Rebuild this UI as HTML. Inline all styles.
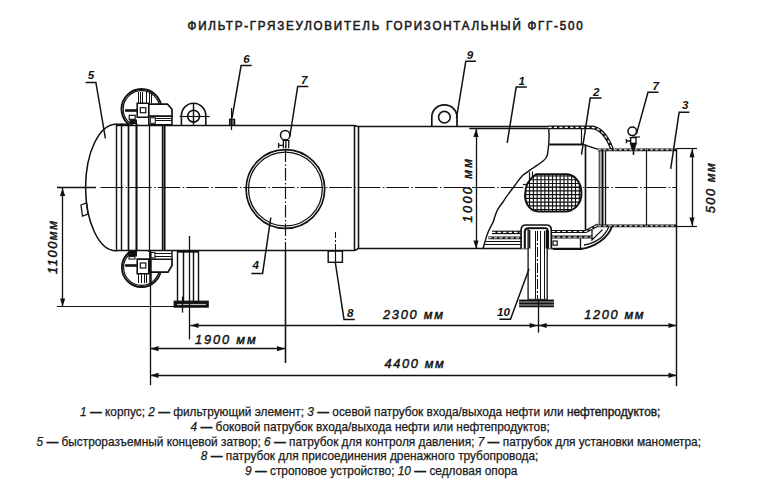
<!DOCTYPE html><html><head><meta charset="utf-8"><style>
html,body{margin:0;padding:0;background:#fff;width:768px;height:496px;overflow:hidden}
svg{position:absolute;left:0;top:0}
.t{font-family:"Liberation Sans",sans-serif}
.lg{position:absolute;left:0;white-space:nowrap;font-family:"Liberation Sans",sans-serif;font-size:11.85px;color:#1a1a1a;line-height:14px;-webkit-text-stroke:0.25px #1a1a1a}
.lg i{font-style:italic}.lg b{font-weight:bold}
</style></head><body>
<svg width="768" height="496" viewBox="0 0 768 496">
<g fill="none" stroke="#111" stroke-width="1.1" stroke-linecap="butt">
<line x1="57" y1="187.5" x2="96" y2="187.5" stroke-width="1.30"/>
<line x1="98.5" y1="187.5" x2="677" y2="187.5" stroke-width="1.17" stroke-dasharray="22.59 2.5 1.5 2" stroke-dashoffset="26.61"/>
<line x1="117" y1="125.5" x2="354.6" y2="125.5" stroke-width="1.56"/>
<line x1="358" y1="126.5" x2="549" y2="126.5" stroke-width="1.56"/>
<line x1="116" y1="250.5" x2="354.6" y2="250.5" stroke-width="1.56"/>
<line x1="358" y1="248.5" x2="583" y2="248.5" stroke-width="1.56"/>
<path d="M354.6,125.5 L358,126.6 M354.6,250.6 L358,248.7" stroke-width="1.56"/>
<line x1="354.5" y1="125.5" x2="354.5" y2="250.6" stroke-width="1.56"/>
<line x1="358.5" y1="126.6" x2="358.5" y2="248.7" stroke-width="1.56"/>
<path d="M128,124.2 L116,124.2 C99.3,124.2 85.6,152.5 85.6,187.5 C85.6,222.5 99.3,250.8 116,250.8 L117,250.8" stroke-width="1.56"/>
<path d="M81,205 L86.5,203 L88,214 L82.5,216 Z" stroke-width="1.30"/>
<line x1="116.5" y1="123.5" x2="116.5" y2="251" stroke-width="1.43"/>
<line x1="121.5" y1="123.5" x2="121.5" y2="251" stroke-width="1.43"/>
<line x1="128.5" y1="123.5" x2="128.5" y2="251" stroke-width="1.69"/>
<line x1="136.5" y1="123.5" x2="136.5" y2="251" stroke-width="2.08"/>
<line x1="149.5" y1="123.5" x2="149.5" y2="251" stroke-width="1.30"/>
<line x1="162.5" y1="123.5" x2="162.5" y2="251" stroke-width="1.43"/>
<line x1="164.5" y1="123.5" x2="164.5" y2="251" stroke-width="2.08"/>
<clipPath id="ct"><rect x="100" y="80" width="80" height="45"/></clipPath><g clip-path="url(#ct)">
<circle cx="141.5" cy="109" r="20" stroke-width="1.95"/>
<circle cx="141.5" cy="109" r="18.3" stroke-width="1.17"/>
</g>
<g fill="#fff">
<path d="M137.2,103.2 H148.8 V117.3 H137.2 Z" stroke-width="1.56"/>
<path d="M148.8,104.2 H167.5 L172,109.2 V116.3 H148.8 Z" stroke-width="1.69"/>
<path d="M148.8,116.3 H172 V124.8 H148.8 Z" stroke-width="1.56"/>
</g>
<rect x="140.3" y="107.7" width="5.5" height="5" stroke-width="1.17"/>
<line x1="125.1" y1="110.5" x2="137.2" y2="110.5" stroke-width="2.60"/>
<line x1="138.5" y1="92" x2="138.5" y2="103.2" stroke-width="1.04"/>
<line x1="140.5" y1="92" x2="140.5" y2="103.2" stroke-width="1.04"/>
<line x1="142.5" y1="92" x2="142.5" y2="103.2" stroke-width="1.04"/>
<line x1="146.5" y1="92" x2="146.5" y2="103.2" stroke-width="1.04"/>
<line x1="149.5" y1="92" x2="149.5" y2="103.2" stroke-width="1.04"/>
<line x1="151.5" y1="92" x2="151.5" y2="103.2" stroke-width="1.04"/>
<rect x="150.3" y="117.8" width="5" height="5.5" stroke-width="1.04"/>
<line x1="155.4" y1="118.5" x2="171.5" y2="118.5" stroke-width="1.04"/>
<line x1="155.4" y1="120.5" x2="171.5" y2="120.5" stroke-width="1.04"/>
<rect x="129.2" y="115.3" width="6" height="4" stroke-width="1.17"/>
<rect x="129.5" y="119.5" width="7.5" height="4.5" fill="#111" stroke="none"/>
<clipPath id="cb"><rect x="100" y="251" width="80" height="45"/></clipPath><g clip-path="url(#cb)">
<circle cx="141.5" cy="267.4" r="19.6" stroke-width="1.82"/>
<circle cx="141.5" cy="267.4" r="17.9" stroke-width="1.17"/>
</g>
<g fill="#fff">
<path d="M137.2,259.1 H148.8 V273.7 H137.2 Z" stroke-width="1.56"/>
<path d="M149.8,259.1 H172 V265.5 L168,272.2 H149.8 Z" stroke-width="1.69"/>
<path d="M149.8,250.6 H172 V259.1 H149.8 Z" stroke-width="1.43"/>
</g>
<rect x="140.3" y="263" width="5.5" height="5" stroke-width="1.17"/>
<line x1="125.1" y1="265.5" x2="137.2" y2="265.5" stroke-width="2.60"/>
<line x1="138.5" y1="273.7" x2="138.5" y2="283" stroke-width="1.04"/>
<line x1="141.5" y1="273.7" x2="141.5" y2="283" stroke-width="1.04"/>
<line x1="144.5" y1="273.7" x2="144.5" y2="283" stroke-width="1.04"/>
<line x1="146.5" y1="273.7" x2="146.5" y2="283" stroke-width="1.04"/>
<line x1="150.5" y1="259" x2="150.5" y2="284" stroke-width="2.34"/>
<rect x="151" y="252.4" width="4" height="5.5" stroke-width="1.04"/>
<line x1="155" y1="253.5" x2="171.5" y2="253.5" stroke-width="1.04"/>
<line x1="155" y1="256.5" x2="171.5" y2="256.5" stroke-width="1.04"/>
<rect x="128.5" y="251" width="8.5" height="5.5" fill="#111" stroke="none"/>
<rect x="129" y="256.6" width="6" height="2.5" stroke-width="1.04"/>
<path d="M181.4,125.5 V115.5 A12.2,12.2 0 0 1 205.8,115.5 V125.5" stroke-width="1.56"/>
<circle cx="193.6" cy="116.2" r="5.9" stroke-width="1.56"/>
<line x1="179.6" y1="116.5" x2="209.6" y2="116.5" stroke-width="1.17"/>
<line x1="193.5" y1="104" x2="193.5" y2="126" stroke-width="1.43"/>
<rect x="229.6" y="119.3" width="5" height="6" stroke-width="1.30" fill="#666"/>
<line x1="231.5" y1="108" x2="231.5" y2="130" stroke-width="1.17"/>
<circle cx="285.2" cy="135.2" r="4.7" stroke-width="1.56"/>
<path d="M283.4,140.5 V148.2 M288.7,140.5 V148.2 M285.9,140.5 V148.2 M278.1,145.4 H283.4 M278.6,143 V148" stroke-width="1.30"/>
<line x1="282.5" y1="140.5" x2="289.5" y2="140.5" stroke-width="1.04"/>
<circle cx="285.4" cy="189" r="39.3" stroke-width="1.69"/>
<circle cx="285.4" cy="189" r="36.9" stroke-width="1.30"/>
<line x1="285.5" y1="146" x2="285.5" y2="250" stroke-width="1.17" stroke-dasharray="12.5 2.5 1.5 2" stroke-dashoffset="14.95"/>
<line x1="285.5" y1="250" x2="285.5" y2="363" stroke-width="1.30"/>
<rect x="328.2" y="251" width="14.2" height="11.3" stroke-width="1.43"/>
<line x1="335.5" y1="232" x2="335.5" y2="251" stroke-width="1.04" stroke-dasharray="6 2 2 2"/>
<line x1="335.5" y1="251" x2="335.5" y2="262.5" stroke-width="1.17"/>
<line x1="177.5" y1="250.5" x2="177.5" y2="301" stroke-width="1.43"/>
<line x1="183.5" y1="250.5" x2="183.5" y2="301" stroke-width="1.43"/>
<line x1="193.5" y1="250.5" x2="193.5" y2="301" stroke-width="1.43"/>
<line x1="198.5" y1="250.5" x2="198.5" y2="301" stroke-width="1.43"/>
<line x1="178" y1="251.5" x2="199" y2="251.5" stroke-width="2.34"/>
<rect x="174.2" y="301.2" width="34" height="5.9" fill="#111" stroke="#111" stroke-width="1.2"/>
<line x1="177" y1="304.5" x2="206" y2="304.5" stroke-width="1.17" stroke="#bbb"/>
<line x1="189.5" y1="236" x2="189.5" y2="339.4" stroke-width="1.30"/>
<line x1="182.5" y1="296.5" x2="182.5" y2="312.6" stroke-width="1.30"/>
<path d="M431.8,126.6 V117 A12.6,12.1 0 0 1 457,117 V126.6" stroke-width="1.69"/>
<circle cx="444.4" cy="117.2" r="5.8" stroke-width="1.56"/>
<path d="M548.5,127.3 H591 C600,127.3 607,136 612,149" stroke="#111" stroke-width="3.7"/>
<path d="M548.5,127.3 H591 C600,127.3 607,136 612,149" stroke="#fff" stroke-width="1.2" stroke-dasharray="3.2 2.2"/>
<path d="M548.7,129 C549.5,136 548.5,148 547.5,154.5 C546.5,158 545,159.5 543.7,160.5 C540,163.5 536,166 532.4,168.5 C528,171.5 525,173.5 522.6,175.5 C520,178 518.5,180.5 516.9,182.6 C515,185 514,186.5 512.7,188.2 C511,190.5 510,192 508.5,193.9 C506,197 504.5,199.5 502.8,202.3 C500,206 497.5,209 496.5,212 C494.5,217 494,220 493.1,222.2 C491,226 489.5,229 488.3,231.8 C486,237 485,242 483.5,247 L483,249" stroke-width="1.43"/>
<line x1="549.4" y1="144.5" x2="582.7" y2="144.5" stroke-width="1.82"/>
<path d="M582.7,144.4 L598.3,149.4" stroke-width="1.43"/>
<line x1="581.5" y1="129" x2="581.5" y2="144.4" stroke-width="1.17"/>
<line x1="585.5" y1="144.4" x2="585.5" y2="230" stroke-width="1.69"/>
<line x1="599.5" y1="149" x2="599.5" y2="226" stroke-width="1.82" stroke="#555"/>
<line x1="602.5" y1="149" x2="602.5" y2="226" stroke-width="2.08"/>
<line x1="605.5" y1="149" x2="605.5" y2="226" stroke-width="1.30"/>
<clipPath id="mc"><path d="M536,174.3 H566 C575,174.3 581.5,183 581.5,193 C581.5,204 574,211.6 565,211.6 H540 C531,211.6 525,205 525,195 C525,186 529,179 536,174.3 Z"/></clipPath>
<g clip-path="url(#mc)">
<path d="M525.70,172V214M529.53,172V214M533.36,172V214M537.19,172V214M541.02,172V214M544.85,172V214M548.68,172V214M552.51,172V214M556.34,172V214M560.17,172V214M564.00,172V214M567.83,172V214M571.66,172V214M575.49,172V214M579.32,172V214M522,176.00H584M522,179.73H584M522,183.46H584M522,187.19H584M522,190.92H584M522,194.65H584M522,198.38H584M522,202.11H584M522,205.84H584M522,209.57H584M522,213.30H584" stroke-width="1.17"/>
</g>
<path d="M536,174.3 H566 C575,174.3 581.5,183 581.5,193 C581.5,204 574,211.6 565,211.6 H540 C531,211.6 525,205 525,195 C525,186 529,179 536,174.3 Z" stroke-width="1.95"/>
<line x1="529.5" y1="172" x2="529.5" y2="180" stroke-width="1.17"/>
<line x1="532.5" y1="171.5" x2="532.5" y2="177" stroke-width="1.17"/>
<line x1="523" y1="184.5" x2="528" y2="184.5" stroke-width="1.17"/>
<path d="M492,232.4 H522" stroke="#111" stroke-width="3.5"/>
<path d="M492,232.4 H522" stroke="#fff" stroke-width="1.2" stroke-dasharray="3.5 2"/>
<path d="M488.3,237.9 H522" stroke="#111" stroke-width="2.9"/>
<path d="M488.3,237.9 H522" stroke="#fff" stroke-width="1.0" stroke-dasharray="3.5 2"/>
<line x1="486" y1="241.5" x2="522" y2="241.5" stroke-width="1.17"/>
<line x1="485" y1="244.5" x2="522" y2="244.5" stroke-width="1.17"/>
<path d="M551.3,231.5 H585.8 L598,225" stroke="#111" stroke-width="3.2"/>
<path d="M551.3,231.5 H585.8 L598,225" stroke="#fff" stroke-width="1.1" stroke-dasharray="3.5 2"/>
<path d="M551.3,237.1 H592" stroke="#111" stroke-width="3.0"/>
<path d="M551.3,237.1 H592" stroke="#fff" stroke-width="1.0" stroke-dasharray="3.5 2"/>
<rect x="553" y="241" width="4.2" height="4.2" stroke-width="1.17"/>
<line x1="580.5" y1="238.4" x2="580.5" y2="249" stroke-width="1.30"/>
<path d="M592,229.6 V240 L602.5,229.6" stroke-width="1.30"/>
<path d="M553,248.9 H581.7 C595,247 608,238 612,226.5" stroke-width="1.95"/>
<path d="M584,245 C596,243 605,236 609,226.5" stroke-width="1.30"/>
<g fill="#fff">
<path d="M521.1,248.5 V230 Q521.1,225 526,225 H546.3 Q551.3,225 551.3,230 V248.5" stroke-width="1.69"/>
</g>
<path d="M524.8,248.5 V232 Q524.8,228.3 528.5,228.3 H544.3 Q548,228.3 548,232 V248.5" stroke-width="2.08"/>
<rect x="528.1" y="228.5" width="19.1" height="71" stroke-width="1.30" fill="#fff"/>
<line x1="529.5" y1="230" x2="529.5" y2="248.5" stroke-width="1.69"/>
<line x1="546.5" y1="230" x2="546.5" y2="248.5" stroke-width="1.69"/>
<line x1="535.5" y1="231" x2="535.5" y2="299.6" stroke-width="1.04"/>
<line x1="540.5" y1="231" x2="540.5" y2="299.6" stroke-width="1.04"/>
<line x1="544.5" y1="231" x2="544.5" y2="299.6" stroke-width="1.04"/>
<line x1="537.5" y1="231" x2="537.5" y2="299" stroke-width="1.04" stroke-dasharray="10 2 2 2"/>
<rect x="519.1" y="299.6" width="34.8" height="7" fill="#777" stroke="none"/>
<line x1="519.1" y1="300.5" x2="553.9" y2="300.5" stroke-width="1.56"/>
<line x1="519.1" y1="303.5" x2="553.9" y2="303.5" stroke-width="1.56"/>
<line x1="519.1" y1="306.5" x2="553.9" y2="306.5" stroke-width="1.56"/>
<line x1="538.5" y1="299" x2="538.5" y2="332.7" stroke-width="1.30"/>
<path d="M598,149.8 H677" stroke="#111" stroke-width="2.8"/>
<path d="M598,149.8 H677" stroke="#fff" stroke-width="1.0" stroke-dasharray="3.2 2"/>
<path d="M598,225.9 H677" stroke="#111" stroke-width="2.6"/>
<path d="M598,225.9 H677" stroke="#fff" stroke-width="1.0" stroke-dasharray="3.2 2"/>
<line x1="676.5" y1="148.7" x2="676.5" y2="226" stroke-width="1.43"/>
<line x1="646.5" y1="148.7" x2="646.5" y2="226" stroke-width="1.17"/>
<circle cx="632.3" cy="131.3" r="4.3" stroke-width="1.56"/>
<path d="M630.7,137.7 V143.4 M636,137.7 V143.4 M625.9,141 H630.7 M626.4,139 V143.2 M629.5,137.7 H637" stroke-width="1.30"/>
<path d="M630,143 H636.5 L634.5,149.5 H632 Z" stroke-width="0.65" fill="#111"/>
<line x1="633.5" y1="149" x2="633.5" y2="155" stroke-width="1.56"/>
<path d="M632.5,137 H640" stroke-width="1.17"/>
<line x1="150.5" y1="251" x2="150.5" y2="385.2" stroke-width="1.30"/>
<line x1="676.5" y1="226" x2="676.5" y2="386.2" stroke-width="1.43"/>
<line x1="57" y1="306.5" x2="174" y2="306.5" stroke-width="1.17"/>
<line x1="57" y1="187.5" x2="62" y2="187.5" stroke-width="1.17"/>
<line x1="677" y1="148.5" x2="697" y2="148.5" stroke-width="1.17"/>
<line x1="677" y1="226.5" x2="697" y2="226.5" stroke-width="1.17"/>
<line x1="285.5" y1="250" x2="285.5" y2="363" stroke-width="1.30"/>
<line x1="62.5" y1="187.5" x2="62.5" y2="307" stroke-width="1.30"/>
<path d="M62.6,188 L60.0,196 L65.2,196 Z" fill="#111" stroke="none"/>
<path d="M62.6,306.5 L60.0,298.5 L65.2,298.5 Z" fill="#111" stroke="none"/>
<line x1="476.5" y1="128.5" x2="476.5" y2="249" stroke-width="1.30"/>
<path d="M476,129 L473.4,137 L478.6,137 Z" fill="#111" stroke="none"/>
<path d="M476,248.5 L473.4,240.5 L478.6,240.5 Z" fill="#111" stroke="none"/>
<line x1="469.3" y1="128.5" x2="548.5" y2="128.5" stroke-width="1.30"/>
<line x1="692.5" y1="148.7" x2="692.5" y2="226" stroke-width="1.30"/>
<path d="M692,149.2 L689.4,157.2 L694.6,157.2 Z" fill="#111" stroke="none"/>
<path d="M692,225.5 L689.4,217.5 L694.6,217.5 Z" fill="#111" stroke="none"/>
<line x1="190.2" y1="325.5" x2="677" y2="325.5" stroke-width="1.56"/>
<path d="M190.5,325.5 L198.5,322.9 L198.5,328.1 Z" fill="#111" stroke="none"/>
<path d="M537.7,325.5 L529.7,322.9 L529.7,328.1 Z" fill="#111" stroke="none"/>
<path d="M538.7,325.5 L546.7,322.9 L546.7,328.1 Z" fill="#111" stroke="none"/>
<path d="M676.5,325.5 L668.5,322.9 L668.5,328.1 Z" fill="#111" stroke="none"/>
<line x1="150" y1="348.5" x2="285.3" y2="348.5" stroke-width="1.56"/>
<path d="M150.5,348.7 L158.5,346.09999999999997 L158.5,351.3 Z" fill="#111" stroke="none"/>
<path d="M285,348.7 L277,346.09999999999997 L277,351.3 Z" fill="#111" stroke="none"/>
<line x1="150" y1="375.5" x2="677" y2="375.5" stroke-width="1.56"/>
<path d="M150.5,375.3 L158.5,372.7 L158.5,377.90000000000003 Z" fill="#111" stroke="none"/>
<path d="M676.5,375.3 L668.5,372.7 L668.5,377.90000000000003 Z" fill="#111" stroke="none"/>
<path d="M85.6,82.5 H95.9 L105.4,138.4" stroke-width="1.49"/>
<path d="M251.7,65.5 H241.1 L232,118" stroke-width="1.49"/>
<path d="M308.3,86.6 H297.7 L289.8,136.5" stroke-width="1.49"/>
<path d="M476,61.3 H465.8 L456.5,118" stroke-width="1.49"/>
<path d="M526.8,87.1 H516.2 L507.2,142.9" stroke-width="1.49"/>
<path d="M601.6,98.1 H590.2 L581.5,154.6" stroke-width="1.49"/>
<path d="M658.5,92.2 H648 L636.4,134.1" stroke-width="1.49"/>
<path d="M689.4,112.3 H679.1 L670.7,168.9" stroke-width="1.49"/>
<path d="M251.3,273.4 H262.6 L270.8,217.6" stroke-width="1.49"/>
<path d="M354.8,319.4 H344 L335.4,263" stroke-width="1.49"/>
<path d="M499.4,319.2 H510.5 L529,269" stroke-width="1.49"/>
</g>
<text class="t" x="87.7" y="79.4" font-size="11.6" font-weight="bold" font-style="italic" fill="#111">5</text>
<text class="t" x="243.3" y="62.6" font-size="11.6" font-weight="bold" font-style="italic" fill="#111">6</text>
<text class="t" x="301.0" y="84.3" font-size="11.6" font-weight="bold" font-style="italic" fill="#111">7</text>
<text class="t" x="466.7" y="58.8" font-size="11.6" font-weight="bold" font-style="italic" fill="#111">9</text>
<text class="t" x="518.6" y="84.5" font-size="11.6" font-weight="bold" font-style="italic" fill="#111">1</text>
<text class="t" x="593.1" y="95.6" font-size="11.6" font-weight="bold" font-style="italic" fill="#111">2</text>
<text class="t" x="652.4" y="89.5" font-size="11.6" font-weight="bold" font-style="italic" fill="#111">7</text>
<text class="t" x="682.0" y="108.5" font-size="11.6" font-weight="bold" font-style="italic" fill="#111">3</text>
<text class="t" x="252.6" y="268.5" font-size="11.6" font-weight="bold" font-style="italic" fill="#111">4</text>
<text class="t" x="347.0" y="317" font-size="11.6" font-weight="bold" font-style="italic" fill="#111">8</text>
<text class="t" x="497.0" y="315.8" font-size="11.6" font-weight="bold" font-style="italic" fill="#111">10</text>
<text class="t" x="383.0" y="319.2" font-size="12.8" font-weight="normal" font-style="italic" textLength="60" lengthAdjust="spacing" fill="#111" stroke="#111" stroke-width="0.45">2300 мм</text>
<text class="t" x="584.3" y="319.2" font-size="12.8" font-weight="normal" font-style="italic" textLength="59.3" lengthAdjust="spacing" fill="#111" stroke="#111" stroke-width="0.45">1200 мм</text>
<text class="t" x="195.0" y="344.3" font-size="12.8" font-weight="normal" font-style="italic" textLength="60.7" lengthAdjust="spacing" fill="#111" stroke="#111" stroke-width="0.45">1900 мм</text>
<text class="t" x="384.6" y="368" font-size="12.8" font-weight="normal" font-style="italic" textLength="59.3" lengthAdjust="spacing" fill="#111" stroke="#111" stroke-width="0.45">4400 мм</text>
<text class="t" transform="translate(472.3,190.7) rotate(-90)" font-size="12.8" font-weight="normal" font-style="italic" fill="#111" stroke="#111" stroke-width="0.45" text-anchor="middle" textLength="63.5" lengthAdjust="spacing">1000 мм</text>
<text class="t" transform="translate(714.5,188.3) rotate(-90)" font-size="12.8" font-weight="normal" font-style="italic" fill="#111" stroke="#111" stroke-width="0.45" text-anchor="middle" textLength="50" lengthAdjust="spacing">500 мм</text>
<text class="t" transform="translate(57.4,247.5) rotate(-90)" font-size="12.8" font-weight="normal" font-style="italic" fill="#111" stroke="#111" stroke-width="0.45" text-anchor="middle" textLength="53" lengthAdjust="spacing">1100мм</text>
<text class="t" transform="translate(187.6,30.3) scale(0.9,1)" font-size="12.9" font-weight="normal" stroke="#1c1c1c" stroke-width="0.6" textLength="438.9" lengthAdjust="spacing" fill="#1c1c1c">ФИЛЬТР-ГРЯЗЕУЛОВИТЕЛЬ ГОРИЗОНТАЛЬНЫЙ ФГГ-500</text>
</svg>
<div class="lg" style="left:80px;top:405.3px"><i>1</i> <b>—</b> корпус; <i>2</i> <b>—</b> фильтрующий элемент; <i>3</i> <b>—</b> осевой патрубок входа/выхода нефти или <span style="-webkit-text-stroke:0.4px #1a1a1a">нефтепродуктов;</span></div>
<div class="lg" style="left:190.6px;top:420.0px"><i>4</i> <b>—</b> боковой патрубок входа/выхода нефти или нефтепродуктов;</div>
<div class="lg" style="left:36.5px;top:434.6px"><i>5</i> <b>—</b> быстроразъемный концевой затвор; <i>6</i> <b>—</b> патрубок для контроля давления; <i>7</i> <b>—</b> патрубок для установки манометра;</div>
<div class="lg" style="left:200.8px;top:449.3px"><i>8</i> <b>—</b> патрубок для присоединения дренажного трубопровода;</div>
<div class="lg" style="left:245px;top:464.0px"><i>9</i> <b>—</b> строповое устройство; <i>10</i> <b>—</b> седловая опора</div>
</body></html>
